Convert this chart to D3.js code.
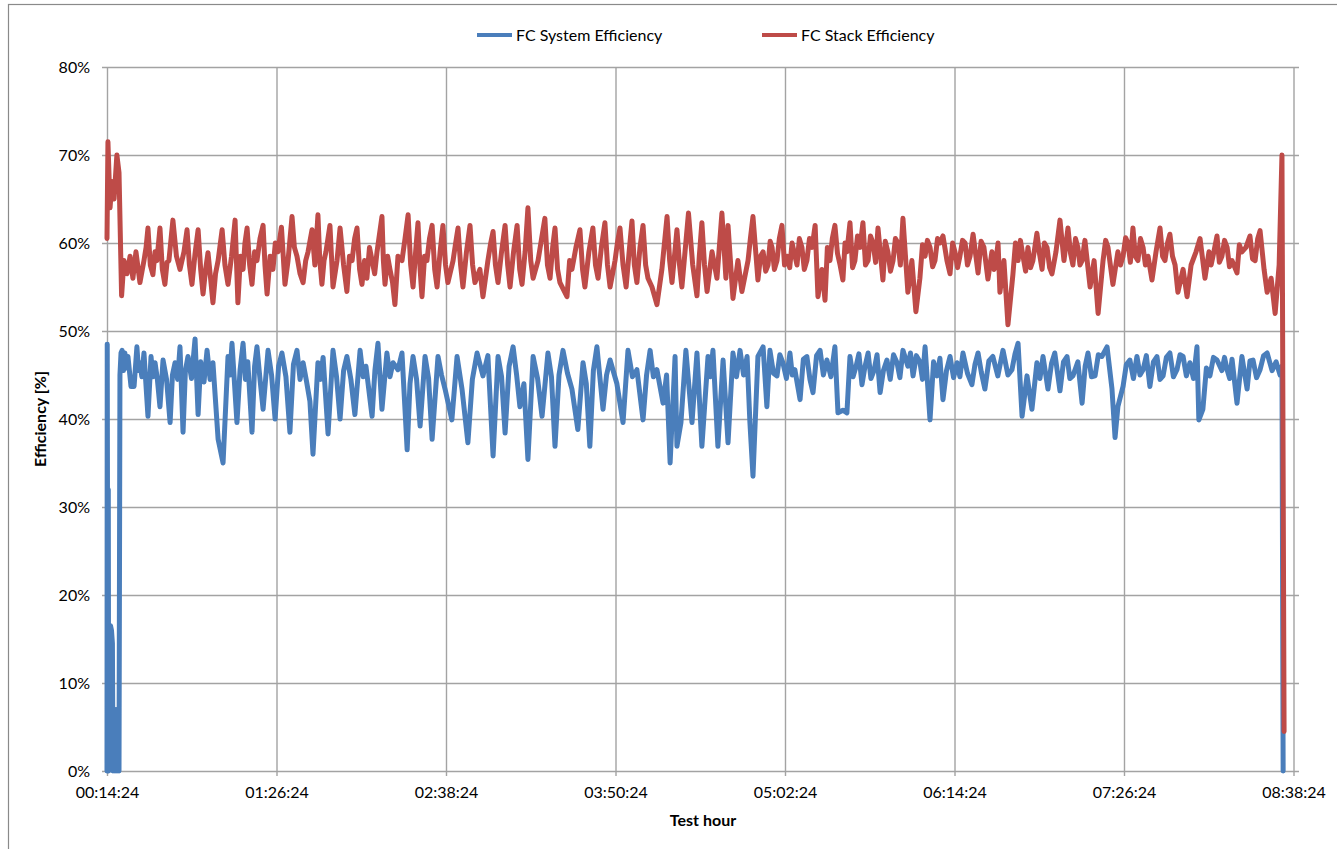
<!DOCTYPE html>
<html>
<head>
<meta charset="utf-8">
<script src="https://cdn.jsdelivr.net/npm/d3@7"></script>
<style>
  body { margin: 0; background: #fff; }
  svg { display: block; font-family: Lato, "Open Sans", sans-serif; }
</style>
</head>
<body>
<div class="chart"></div>
<script>
// elapsed test minutes since 00:14:24 and efficiency in %
const stackMin = [
  0, 0.4, 1.3, 2.1, 3.0, 4.2, 5.1, 6.2,
  7.2, 8.5, 9.8, 11.0, 12.3, 14.0, 15.7, 16.6, 17.4, 18.4,
  19.5, 20.4, 21.2, 22.5, 23.5, 24.6, 25.5, 26.3, 28.0, 29.5,
  31.0, 32.7, 34.0, 35.0, 36.1, 37.4, 38.7, 39.8, 40.8, 41.9,
  42.9, 44.0, 45.0, 46.1, 47.2, 48.9, 50.1, 51.4, 52.9, 54.4,
  55.6, 56.7, 57.8, 58.6, 59.5, 60.6, 61.6, 62.7, 63.7, 65.0,
  66.3, 67.1, 68.0, 69.3, 70.5, 71.5, 72.6, 74.1, 75.6, 76.9,
  78.6, 79.6, 80.7, 82.0, 83.3, 84.4, 85.4, 87.1, 88.3, 89.6,
  90.4, 91.3, 92.2, 93.0, 94.7, 96.0, 97.7, 99.0, 100.5, 101.9,
  103.0, 104.1, 105.2, 106.2, 107.3, 108.3, 109.4, 110.4, 111.5, 112.6,
  113.7, 114.7, 116.8, 117.4, 118.1, 119.2, 120.2, 121.3, 122.3, 123.6,
  125.3, 126.6, 127.9, 129.0, 130.0, 131.1, 132.1, 133.0, 133.8, 134.9,
  135.9, 137.0, 138.1, 139.2, 140.2, 141.5, 142.7, 143.8, 144.8, 147.0,
  148.1, 149.1, 150.2, 151.2, 152.7, 154.2, 155.3, 156.3, 158.4, 159.7,
  161.8, 163.0, 164.0, 165.0, 166.1, 167.6, 169.1, 170.2, 171.2, 172.7,
  174.2, 175.3, 176.3, 177.6, 178.8, 180.0, 181.0, 183.1, 184.6, 186.0,
  187.1, 188.2, 189.3, 190.3, 191.4, 192.4, 195.4, 196.5, 197.5, 199.2,
  200.9, 202.0, 203.0, 204.7, 206.4, 207.5, 208.6, 210.0, 211.5, 212.6,
  213.7, 215.8, 216.8, 217.9, 219.2, 220.5, 221.8, 223.0, 224.0, 225.1,
  226.4, 227.7, 228.8, 229.8, 231.5, 233.6, 235.7, 236.8, 237.9, 239.0,
  240.0, 242.1, 243.2, 244.2, 247.0, 248.8, 250.6, 251.6, 252.7, 253.8,
  254.9, 257.0, 259.1, 261.2, 262.9, 263.8, 265.9, 268.0, 269.7, 272.3,
  273.3, 274.4,
  276.5, 277.6, 278.7, 279.8, 280.8, 281.7, 282.5, 283.5, 284.6, 285.6,
  286.7, 287.8, 288.9, 290.0, 291.0, 292.0, 293.1, 294.1, 295.2, 296.2,
  297.3, 298.4, 299.5, 300.8, 302.0, 303.7, 305.0, 306.0, 307.1, 308.1,
  309.2, 310.3, 311.4, 312.6, 313.5, 314.3, 315.6, 316.7, 317.7, 318.8,
  319.9, 321.1, 322.2, 323.3, 324.3, 325.4, 326.5, 327.5, 329.6, 330.6,
  331.7, 332.8, 333.9, 334.9, 336.0, 337.0, 338.1, 340.2, 341.9, 343.6,
  345.3, 346.4, 347.5, 348.5, 349.6, 350.7, 351.7, 352.8, 353.8, 355.1,
  356.8, 358.1, 359.2, 360.2, 361.3, 362.3, 363.4, 364.5, 365.5, 366.6,
  367.9, 370.0, 371.3, 372.5, 374.2, 375.9, 376.8, 377.6, 378.5, 379.3,
  381.0, 382.7, 384.8, 385.9, 387.0, 388.0, 389.1, 390.2, 391.2, 392.3,
  393.3, 395.0, 396.1, 397.2, 398.2, 399.3, 400.4, 401.4, 403.1, 404.8,
  406.5, 408.2, 409.3, 410.3, 411.4, 412.4, 413.3, 414.2, 415.4, 417.6,
  419.3, 421.0, 423.1, 424.2, 425.2, 427.3, 429.4, 430.5, 431.6, 432.7,
  433.7, 434.7, 435.8, 436.8, 437.9, 439.0, 440.1, 441.1, 442.2, 443.9,
  445.6, 447.3, 448.4, 449.4, 450.5, 451.5, 452.6, 453.7, 454.9, 457.1,
  458.8, 460.5, 462.6, 464.3, 466.4, 468.1, 469.0, 469.8, 471.5, 472.5,
  473.6, 474.7, 475.8, 476.8, 477.9, 480.0, 481.0, 482.1, 483.8, 485.5,
  486.6, 487.7, 488.8, 489.8, 491.5, 492.8, 494.5, 496.2, 497.9, 499.1,
  500.0
];
const stackPct = [
  60.5, 71.5, 64, 67, 65, 70, 68, 54,
  58, 56.5, 58.5, 56, 59, 55.5, 58, 59.5, 61.7, 57.5,
  56.4, 59, 58, 61.7, 57, 55.3, 57.8, 58, 62.6, 58.5,
  57, 59, 61.5, 57.5, 55.3, 58.8, 61.5, 57, 54.2, 57,
  58.9, 56, 53.2, 56.5, 58, 61.5, 57.5, 55.3, 58.5, 62.6,
  53.2, 58.5, 57, 60, 61.7, 57.5, 55.3, 59, 58, 60.5,
  62, 57.5, 54.2, 58.5, 57, 60, 59, 61.8, 55.3, 58,
  63, 59.5, 58.5, 56.5, 55.5, 58, 59, 61.5, 57.5, 63.2,
  58, 55.3, 58, 59, 62, 55, 58, 61.7, 57.5, 54.5,
  58.5, 58, 60.5, 61.7, 57, 55.3, 58, 56, 59.5, 58,
  56.5, 59, 63, 58, 55.3, 58.5, 57, 55.5, 53, 58.5,
  58, 60.5, 63.2, 57.5, 55, 59, 62.3, 57, 53.9, 58.5,
  58, 60.5, 62, 57, 55, 59, 62, 57.5, 55.5, 58,
  60, 61.7, 57.5, 55, 59, 62, 57.5, 55.5, 57, 53.9,
  58, 60, 61.3, 57.5, 55.5, 59, 62, 57.5, 55, 59,
  62, 57, 55.3, 59, 64, 58, 56, 58, 60.5, 62.8,
  57.5, 56, 59.5, 61.7, 57, 55.5, 53.9, 58, 57, 59.5,
  61.5, 57, 55, 59, 61.7, 57.5, 56, 59.5, 62.3, 57.5,
  55, 58, 60, 61.7, 57.5, 55, 59, 62.5, 57.5, 55.5,
  59.5, 62, 57.5, 56, 55, 53, 57, 60, 63, 58,
  55.5, 61.5, 57.5, 55, 63.4, 57.5, 54, 58.5, 62.3, 57.5,
  54.5, 59, 56, 63.4, 56, 62, 53.7, 58, 54.5, 58,
  60.5, 63,
  55.8, 58.5, 59, 56.8, 57.5, 60.2, 59.5, 57, 58, 60.5,
  62, 57.5, 58.5, 57.2, 60, 58.8, 57.5, 60.5, 59.5, 57,
  58, 60.5, 59.5, 62, 53.9, 57, 53.5, 59.5, 58, 60.5,
  62, 58.8, 57.5, 55.8, 60, 59, 62.3, 57.2, 58, 60.8,
  59.5, 62.3, 57.5, 58, 60.8, 60, 57.8, 61.7, 55.8, 60.2,
  59, 56.8, 58, 60.5, 60, 57.5, 62.8, 54.4, 58, 52.2,
  56, 59.8, 58.5, 60.3, 59.5, 57.3, 58, 60.5, 60, 60.8,
  58, 56.5, 60, 59, 57.2, 58.5, 60.3, 60, 57.5, 58.5,
  61, 56.6, 60.2, 59.5, 55.9, 59, 57, 58, 60, 54.4,
  58, 50.7, 56.4, 60, 58, 60.3, 58.5, 56.8, 59.5, 57.2,
  58, 61.1, 58.8, 57, 60, 59.5, 57.2, 56.5, 59, 62.6,
  58, 61.7, 58.8, 57.5, 60.5, 59.5, 57.5, 58, 60.3, 55,
  58, 52, 58, 60.3, 59.5, 55.3, 59, 57.5, 58.5, 60.6,
  60, 57.8, 61.7, 58.5, 58, 60.5, 59.5, 57.5, 58.5, 55.8,
  59, 61.7, 58.5, 58, 60, 61, 58.5, 57.5, 54.4, 57,
  53.9, 57.5, 59, 60.5, 56, 59, 57.5, 58.5, 60.8, 57.8,
  58.5, 60.3, 59.5, 57.3, 58, 56.6, 59.8, 59, 59.5, 60.8,
  58.2, 58, 60.5, 61.4, 57, 54.4, 56, 52, 57.5, 70,
  4.5
];

const systemMin = [
  0, 0.1, 0.4, 0.55, 0.7, 1.05, 1.5, 1.9, 2.3, 2.55,
  3.0, 3.4, 3.8, 4.25, 4.7, 5.1, 5.5, 5.95,
  6.4, 7.0, 7.6, 8.3, 8.9, 10.2, 11.5, 12.7, 13.4, 14.0,
  14.8, 15.7, 17.4, 18.7, 19.5, 20.4, 21.4, 22.5, 23.8, 25.3,
  26.8, 27.8, 28.9, 30.0, 31.0, 32.3, 33.3, 34.4, 35.9, 37.4,
  38.7, 39.8, 41.2, 42.5, 43.8, 45.0, 47.2, 49.3, 51.4, 52.2,
  53.1, 55.2, 56.5, 57.8, 58.8, 59.8, 61.6, 62.7, 63.7, 65.0,
  66.3, 68.4, 69.9, 71.4, 72.9, 74.3, 76.0, 77.7, 79.2, 80.7,
  82.0, 83.3, 84.8, 86.2, 87.5, 89.6, 90.7, 91.8, 93.9, 96.0,
  97.5, 99.0, 100.5, 101.9, 103.6, 105.3, 107.5, 108.8, 110.0, 112.6,
  113.8, 115.1, 116.8, 118.9, 120.2, 121.5, 123.6, 125.3, 127.5, 128.7,
  130.0, 131.5, 133.0, 135.1, 136.6, 138.1, 140.6, 142.1, 143.6, 146.5,
  148.7, 150.8, 153.3, 155.2, 157.2, 159.7, 161.8, 164.0, 166.1, 167.6,
  169.1, 170.8, 172.5, 174.0, 175.4, 177.1, 178.8, 181.0, 182.9, 184.8,
  187.3, 188.8, 190.3, 192.0, 193.7, 195.6, 197.5, 200.0, 202.2, 203.6,
  205.1, 206.6, 208.1, 210.7, 212.2, 213.7, 216.6, 219.2, 221.3, 223.2,
  225.1, 227.7, 229.2, 230.7, 232.1, 233.6, 236.2, 237.7, 239.2, 241.3,
  242.1, 243.8, 245.9, 248.5, 250.6, 252.7, 255.3, 256.3, 257.4, 259.5,
  261.7, 263.8, 265.9, 267.4, 268.9, 270.4, 271.9, 273.1, 274.4, 276.5,
  278.7, 280.3,
  281.6, 283.1, 284.6, 285.8, 287.1, 288.6, 290.1, 291.1, 292.2, 294.4,
  295.8, 297.3, 298.6, 299.9, 301.4, 302.9, 304.3, 305.8, 307.5, 309.2,
  310.5, 312.6, 314.3, 315.6, 316.9, 318.2, 319.4, 320.7, 322.0, 323.3,
  324.5, 325.8, 327.1, 328.4, 329.8, 331.3, 332.7, 334.1, 335.6, 336.8,
  338.1, 340.2, 341.3, 342.4, 343.8, 345.3, 346.4, 347.5, 349.6, 351.1,
  352.6, 353.8, 355.1, 356.6, 358.1, 359.6, 361.1, 362.3, 363.6, 365.5,
  367.4, 368.7, 370.0, 371.4, 372.9, 374.6, 376.3, 378.4, 380.6, 382.7,
  384.4, 385.7, 387.0, 388.7, 390.8, 392.9, 395.0, 396.3, 397.6, 399.7,
  401.2, 402.6, 404.8, 406.3, 407.8, 409.0, 410.3, 412.4, 414.2, 415.5,
  416.7, 418.2, 419.7, 421.1, 422.6, 424.8, 426.9, 428.2, 429.4, 431.6,
  433.0, 434.5, 436.0, 437.5, 438.8, 440.1, 441.5, 443.0, 444.5, 446.0,
  447.3, 448.6, 450.0, 451.5, 453.0, 454.5, 455.8, 457.1, 458.5, 460.0,
  461.5, 463.0, 463.8, 465.5, 467.0, 468.5, 470.0, 471.5, 473.6, 474.7,
  475.8, 476.9, 477.9, 480.0, 482.1, 484.3, 485.5, 486.8, 488.3, 489.8,
  491.3, 492.8, 494.9, 496.6, 498.3, 499.1, 499.6
];
const systemPct = [
  0, 48.5, 0, 32, 0, 7, 16.5, 16, 14.5, 0,
  7, 0, 7, 0, 6.5, 0, 45, 47.5,
  47.8, 45.5, 47.5, 45.8, 47.1, 43.7, 43.7, 48.2, 45.5, 46.4,
  44.8, 47.5, 40.3, 47.1, 44.8, 46.4, 44.5, 41.4, 46.7, 44.5,
  39.6, 45, 46.4, 44.5, 48.2, 38.5, 45.5, 47.1, 44.6, 49.1,
  40.5, 46.5, 44.2, 47.8, 44.5, 46.4, 37.7, 35.0, 47.1, 45,
  48.6, 39.6, 45.5, 48.6, 44.5, 46.5, 38.5, 46, 48.2, 44.5,
  41.1, 47.8, 45, 40.0, 46, 47.5, 44.8, 38.5, 46.2, 47.8,
  44.5, 46.4, 44.2, 42, 36.0, 46.4, 44.5, 47, 38.3, 47.8,
  44.8, 40.0, 45.5, 47.1, 44.5, 40.5, 47.8, 44.8, 46.0, 40.3,
  45.5, 48.6, 41.1, 47.5, 44.8, 46.4, 45.6, 47.5, 36.5, 44,
  47.1, 44.5, 39.2, 47.1, 44.6, 37.7, 47.1, 45, 43.4, 39.9,
  47.1, 43.4, 37.3, 44.5, 47.5, 44.9, 47.2, 35.8, 47.1, 44.8,
  38.4, 46, 48.2, 45, 41.4, 44, 35.4, 47.1, 44.6, 40.3,
  47.5, 44.8, 36.9, 45, 47.8, 45.2, 43.4, 38.8, 46.4, 44,
  36.9, 45.5, 48.2, 41.1, 45, 46.7, 44.0, 39.6, 47.8, 44.8,
  45.6, 39.9, 45, 47.8, 44.8, 45.6, 41.8, 45, 35.0, 47.1,
  36.9, 39.6, 47.8, 39.6, 47.5, 36.9, 47.1, 44.8, 47.8, 36.9,
  46.7, 37.3, 47.5, 44.8, 47.8, 45, 47.1, 39.6, 33.5, 47.1,
  48.2, 41.4,
  47.8, 45.2, 44.9, 47.3, 46.4, 44.6, 47.5, 45, 45.6, 42.2,
  46.8, 47.1, 44.5, 43.0, 47.2, 47.8, 45, 46.7, 44.8, 48.2,
  40.7, 41.0, 40.7, 47.1, 44.8, 46.0, 47.4, 43.9, 46, 47.5,
  44.6, 45.5, 47.3, 43.0, 45.5, 46.7, 44.5, 47.3, 46.4, 44.7,
  47.8, 46.0, 47.5, 44.9, 47.2, 46.5, 44.5, 48.2, 39.9, 46.5,
  44.9, 46.9, 42.2, 45.5, 47.1, 44.7, 46.4, 44.8, 47.5, 45.2,
  43.9, 46.2, 47.5, 45.3, 43.4, 46.6, 47.1, 44.9, 47.8, 45.0,
  45.6, 47.4, 48.6, 40.3, 44.9, 41.1, 46.4, 44.6, 47.1, 43.4,
  46.3, 47.5, 43.2, 46.5, 47.1, 44.6, 44.9, 46.5, 41.8, 46,
  47.5, 44.8, 44.9, 47.3, 47.1, 48.2, 43.4, 37.9, 41.4, 43.7,
  46.2, 46.7, 44.6, 47.1, 45, 45.6, 47.2, 43.7, 46.5, 47.1,
  44.5, 44.9, 47, 47.5, 44.8, 45.6, 47.3, 47.1, 44.9, 46.4,
  44.6, 48.2, 39.9, 41.1, 45.8, 44.9, 47, 46.7, 45.5, 47,
  45.6, 44.6, 46.8, 41.8, 47.1, 43.4, 46.6, 46.7, 44.7, 45.6,
  47.2, 47.5, 45.5, 46.5, 45.0, 46.0, 0
];

const tickMin = [0, 72, 144, 216, 288, 360, 432, 504];
const tickLabels = ["00:14:24", "01:26:24", "02:38:24", "03:50:24", "05:02:24", "06:14:24", "07:26:24", "08:38:24"];
const yTicks = [0, 0.1, 0.2, 0.3, 0.4, 0.5, 0.6, 0.7, 0.8];
const seriesNames = ["FC System Efficiency", "FC Stack Efficiency"];
const seriesColors = ["#4a7ebb", "#be4b48"];

const width = 1337, height = 849;
const margin = {top: 67, right: 38, bottom: 78, left: 107};
const plotW = width - margin.left - margin.right;   // gridlines run to the right edge of the plot
const plotH = height - margin.top - margin.bottom;

const svg = d3.select('.chart').append('svg')
    .attr('width', width)
    .attr('height', height);

// chart area border (cut off at right/bottom like the original)
svg.append('rect')
    .attr('x', 8.5).attr('y', 4.5)
    .attr('width', width).attr('height', height)
    .attr('fill', 'none')
    .attr('stroke', '#8a8a8a')
    .attr('stroke-width', 1.2);

const g = svg.append('g')
    .attr('transform', `translate(${margin.left},${margin.top})`);

const xScale = d3.scaleLinear()
    .domain([0, 504])
    .range([0, 1186.5]);

const yScale = d3.scaleLinear()
    .domain([0, 0.8])
    .range([plotH, 0]);

// horizontal gridlines + y labels
const yAxis = d3.axisLeft(yScale)
    .tickValues(yTicks)
    .tickFormat(d3.format('.0%'))
    .tickSizeInner(-(plotW + 5))
    .tickSizeOuter(0)
    .tickPadding(12);

g.append('g')
    .attr('class', 'y-axis')
    .attr('transform', 'translate(-5,0)')
    .call(yAxis);

// vertical gridlines + x labels
const xAxis = d3.axisBottom(xScale)
    .tickValues(tickMin)
    .tickFormat((d, i) => tickLabels[i])
    .tickSizeInner(-(plotH + 5))
    .tickSizeOuter(0)
    .tickPadding(11);

g.append('g')
    .attr('class', 'x-axis')
    .attr('transform', `translate(0,${plotH + 5})`)
    .call(xAxis);

g.selectAll('.domain').remove();
g.selectAll('.tick line')
    .attr('stroke', '#a3a3a3')
    .attr('stroke-width', 1.4);
g.selectAll('.tick text')
    .attr('fill', '#000')
    .attr('font-size', '16px')
    .attr('font-family', 'Lato, sans-serif');

// series
const line = d3.line()
    .x(d => xScale(d[0]))
    .y(d => yScale(d[1] / 100));

const series = [
    systemMin.map((m, i) => [m, systemPct[i]]),
    stackMin.map((m, i) => [m, stackPct[i]])
];

g.selectAll('path.series')
    .data(series)
    .enter()
    .append('path')
    .attr('class', 'series')
    .attr('d', line)
    .attr('fill', 'none')
    .attr('stroke', (d, i) => seriesColors[i])
    .attr('stroke-width', 5)
    .attr('stroke-linejoin', 'round')
    .attr('stroke-linecap', 'round');

// axis titles
svg.append('text')
    .attr('x', margin.left + plotW / 2)
    .attr('y', 826)
    .attr('text-anchor', 'middle')
    .attr('font-size', '16px')
    .attr('font-weight', 'bold')
    .text('Test hour');

svg.append('text')
    .attr('transform', `translate(46,${margin.top + plotH / 2}) rotate(-90)`)
    .attr('text-anchor', 'middle')
    .attr('font-size', '16px')
    .attr('font-weight', 'bold')
    .text('Efficiency [%]');

// legend
const legendX = [477, 762];
const legend = svg.selectAll('g.legend')
    .data(seriesNames)
    .enter()
    .append('g')
    .attr('class', 'legend')
    .attr('transform', (d, i) => `translate(${legendX[i]},35)`);

legend.append('line')
    .attr('x1', 0).attr('x2', 35)
    .attr('stroke', (d, i) => seriesColors[i])
    .attr('stroke-width', 4);

legend.append('text')
    .attr('x', 39)
    .attr('dy', '0.35em')
    .attr('font-size', '16px')
    .text(d => d);
</script>
</body>
</html>
